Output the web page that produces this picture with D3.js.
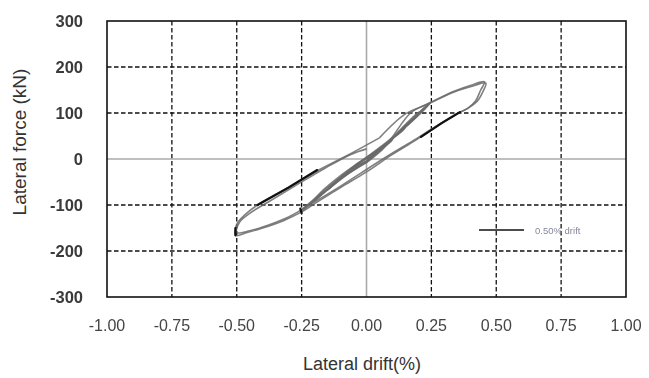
<!DOCTYPE html>
<html>
<head>
<meta charset="utf-8">
<script src="https://cdn.jsdelivr.net/npm/d3@7"></script>
<style>
  html, body { margin: 0; padding: 0; background: #fff; }
  svg { display: block; }
</style>
</head>
<body>
<svg id="chart" width="649" height="378"></svg>
<script>
// Axis ticks
const xTicks = [-1.00, -0.75, -0.50, -0.25, 0.00, 0.25, 0.50, 0.75, 1.00];
const yTicks = [-300, -200, -100, 0, 100, 200, 300];

// Hysteresis cycles: [drift %, lateral force kN]
const cycle010 = [[0,0],[0.04,14],[0.08,32],[0.10,42],[0.09,36],[0.05,20],[0.0,2],[-0.04,-14],[-0.08,-32],[-0.10,-42],[-0.09,-36],[-0.05,-20],[0,-4]];
const cycle015 = [[0,-4],[0.05,20],[0.10,45],[0.15,70],[0.14,62],[0.10,44],[0.05,22],[0,2],[-0.05,-18],[-0.10,-42],[-0.15,-68],[-0.14,-60],[-0.10,-42],[-0.05,-24],[0,-6]];
const cycle020 = [[0,-6],[0.05,18],[0.10,46],[0.15,75],[0.20,102],[0.19,92],[0.14,66],[0.08,38],[0,4],[-0.05,-16],[-0.10,-40],[-0.15,-66],[-0.20,-92],[-0.19,-84],[-0.14,-62],[-0.08,-36],[0,-8]];
const cycle025a = [[0,-8],[0.06,20],[0.12,55],[0.18,88],[0.22,110],[0.25,124],[0.23,112],[0.17,80],[0.10,44],[0.03,14],[-0.04,-12],[-0.10,-36],[-0.16,-64],[-0.21,-92],[-0.25,-114],[-0.23,-104],[-0.17,-76],[-0.10,-44],[-0.03,-16],[0,-6]];
const cycle025b = [[0,-6],[0.07,28],[0.13,62],[0.19,94],[0.24,120],[0.22,106],[0.16,74],[0.09,40],[0.02,10],[-0.05,-18],[-0.11,-44],[-0.17,-72],[-0.22,-98],[-0.25,-110],[-0.22,-96],[-0.15,-64],[-0.08,-32],[0,-4]];
const cycle050a = [[0,-4],[0.08,34],[0.17,100],[0.25,124],[0.34,148],[0.40,160],[0.455,168],[0.44,150],[0.42,126],[0.39,110],[0.36,102],[0.28,75],[0.21,48],[0.10,10],[0,-28],[-0.10,-62],[-0.20,-97],[-0.25,-115],[-0.32,-134],[-0.40,-150],[-0.46,-160],[-0.505,-166],[-0.50,-142],[-0.47,-122],[-0.42,-100],[-0.30,-62],[-0.19,-26],[-0.08,6],[0.05,46]];
const cycle050b = [[0.05,46],[0.15,98],[0.24,120],[0.33,144],[0.40,157],[0.46,165],[0.45,148],[0.43,128],[0.40,114],[0.35,98],[0.27,72],[0.18,40],[0.08,6],[-0.02,-30],[-0.12,-66],[-0.22,-100],[-0.30,-126],[-0.38,-144],[-0.45,-156],[-0.50,-160],[-0.49,-138],[-0.45,-118],[-0.38,-94],[-0.28,-60],[-0.16,-20],[-0.06,10],[0,22]];

// Heavier traced segments of the record
const traceUpper = [[0.36,102],[0.29,78],[0.21,48]];
const traceLower = [[-0.42,-100],[-0.30,-62],[-0.19,-24]];
const traceTipL = [[-0.505,-150],[-0.505,-166]];
const traceDot = [[-0.255,-108],[-0.25,-118]];

const legendLabel = "0.50% drift";

const svg = d3.select("#chart");
const x = d3.scaleLinear().domain([-1, 1]).range([107, 626]);
const y = d3.scaleLinear().domain([-300, 300]).range([297, 21]);
const font = "Liberation Sans, Arial, sans-serif";

const defs = svg.append("defs");
defs.append("filter").attr("id", "soft")
  .append("feGaussianBlur").attr("stdDeviation", 0.5);
defs.append("filter").attr("id", "softer")
  .append("feGaussianBlur").attr("stdDeviation", 0.7);

// Dashed grid
const grid = svg.append("g");
grid.selectAll("line.gx").data(xTicks.filter(d => d !== 0 && Math.abs(d) !== 1)).join("line")
  .attr("x1", d => x(d)).attr("x2", d => x(d))
  .attr("y1", y(300)).attr("y2", y(-300))
  .attr("stroke", "#111").attr("stroke-width", 1.3).attr("stroke-dasharray", "4.5,2.5");
grid.selectAll("line.gy").data(yTicks.filter(d => d !== 0 && Math.abs(d) !== 300)).join("line")
  .attr("x1", x(-1)).attr("x2", x(1))
  .attr("y1", d => y(d)).attr("y2", d => y(d))
  .attr("stroke", "#111").attr("stroke-width", 1.3).attr("stroke-dasharray", "4.5,2.5");

// Zero axes
svg.append("line").attr("x1", x(0)).attr("x2", x(0)).attr("y1", y(300)).attr("y2", y(-300))
  .attr("stroke", "#aaa").attr("stroke-width", 1.6);
svg.append("line").attr("x1", x(-1)).attr("x2", x(1)).attr("y1", y(0)).attr("y2", y(0))
  .attr("stroke", "#aaa").attr("stroke-width", 1.6);

// Frame
svg.append("rect").attr("x", x(-1)).attr("y", y(300))
  .attr("width", x(1) - x(-1)).attr("height", y(-300) - y(300))
  .attr("fill", "none").attr("stroke", "#111").attr("stroke-width", 1.6);

// Hysteresis loops
const line = d3.line().x(d => x(d[0])).y(d => y(d[1])).curve(d3.curveCatmullRom.alpha(0.5));
const loops = [cycle010, cycle015, cycle020, cycle025a, cycle025b, cycle050a, cycle050b];
svg.append("g").attr("filter", "url(#soft)").selectAll("path").data(loops).join("path")
  .attr("d", line)
  .attr("fill", "none").attr("stroke", "#6a6a6a").attr("stroke-width", 1.6)
  .attr("stroke-opacity", 0.85).attr("stroke-linejoin", "round");

const lineStraight = d3.line().x(d => x(d[0])).y(d => y(d[1]));
svg.append("g").selectAll("path").data([traceUpper, traceLower, traceTipL, traceDot]).join("path")
  .attr("d", lineStraight)
  .attr("fill", "none").attr("stroke", "#111").attr("stroke-width", 2.2)
  .attr("stroke-linecap", "round");

// Y tick labels
svg.append("g").attr("filter", "url(#soft)").selectAll("text").data(yTicks).join("text")
  .attr("x", 83).attr("y", d => y(d) + 6)
  .attr("text-anchor", "end")
  .attr("font-family", font)
  .attr("font-size", 16.5).attr("font-weight", "bold").attr("fill", "#3a3a3a")
  .text(d => d);

// X tick labels
const fmtX = v => d3.format(".2f")(v).replace("\u2212", "-");
svg.append("g").attr("filter", "url(#soft)").selectAll("text").data(xTicks).join("text")
  .attr("x", d => x(d)).attr("y", 331)
  .attr("text-anchor", "middle")
  .attr("font-family", font)
  .attr("font-size", 16).attr("fill", "#444")
  .text(fmtX);

// Axis titles
svg.append("text").attr("x", 362).attr("y", 370)
  .attr("text-anchor", "middle")
  .attr("font-family", font)
  .attr("font-size", 18).attr("fill", "#333")
  .text("Lateral drift(%)");
svg.append("text")
  .attr("transform", "translate(26,142) rotate(-90)")
  .attr("text-anchor", "middle")
  .attr("font-family", font)
  .attr("font-size", 19).attr("fill", "#333")
  .text("Lateral force (kN)");

// Legend
svg.append("line").attr("x1", 479).attr("x2", 524).attr("y1", 230).attr("y2", 230)
  .attr("stroke", "#111").attr("stroke-width", 1.6);
svg.append("text").attr("x", 535).attr("y", 233.5)
  .attr("filter", "url(#softer)")
  .attr("font-family", font)
  .attr("font-size", 9.5).attr("fill", "#85879a")
  .text(legendLabel);
</script>
</body>
</html>
